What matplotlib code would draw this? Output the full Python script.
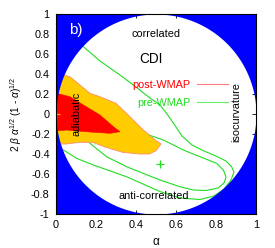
import numpy as np
import matplotlib
matplotlib.use("Agg")
import matplotlib.pyplot as plt
from matplotlib.lines import Line2D

plt.rcParams['font.family'] = ['Liberation Sans', 'DejaVu Sans']
plt.rcParams['mathtext.fontset'] = 'custom'
plt.rcParams['mathtext.rm'] = 'Liberation Sans'
plt.rcParams['mathtext.it'] = 'Liberation Sans:italic'

# ---- data ----
# post-WMAP 95% region (yellow)
post95_x = [-0.05, 0.04, 0.07, 0.12, 0.17, 0.22, 0.30, 0.37, 0.437, 0.49, 0.525,
            0.50, 0.467, 0.417, 0.333, 0.25, 0.183, 0.117, 0.05, -0.05]
post95_y = [0.39, 0.39, 0.373, 0.29, 0.207, 0.173, 0.107, -0.027, -0.16, -0.25, -0.30,
            -0.367, -0.40, -0.40, -0.383, -0.333, -0.283, -0.283, -0.30, -0.30]
# post-WMAP 68% region (red)
post68_x = [-0.05, 0.003, 0.07, 0.137, 0.22, 0.287, 0.32, 0.27, 0.17, 0.053, -0.05]
post68_y = [0.207, 0.207, 0.173, 0.09, -0.01, -0.127, -0.177, -0.193, -0.18, -0.16, -0.177]

# pre-WMAP contours (green)
pre68_x = [0.15, 0.30, 0.45, 0.537, 0.637, 0.72, 0.803, 0.837, 0.85, 0.84, 0.81,
           0.75, 0.687, 0.62, 0.52, 0.353, 0.253, 0.17, 0.15]
pre68_y = [-0.25, -0.15, -0.20, -0.26, -0.36, -0.427, -0.493, -0.56, -0.63, -0.69, -0.74,
           -0.765, -0.76, -0.727, -0.66, -0.527, -0.427, -0.293, -0.25]
pre95_x = [0.08, 0.137, 0.22, 0.32, 0.40, 0.47, 0.52, 0.555, 0.59, 0.63, 0.68, 0.74,
           0.80, 0.85, 0.878, 0.89, 0.875, 0.84, 0.79, 0.72, 0.62, 0.52, 0.353, 0.187,
           0.103, 0.037, -0.05, -0.05, 0.08]
pre95_y = [0.80, 0.673, 0.53, 0.39, 0.27, 0.16, 0.09, 0.0, -0.10, -0.22, -0.31, -0.37,
           -0.42, -0.47, -0.527, -0.58, -0.66, -0.75, -0.82, -0.855, -0.84, -0.775, -0.627, -0.51,
           -0.443, -0.36, -0.30, 0.80, 0.80]

best_pre = (0.52, -0.495)
best_post = (0.0, 0.0)

xticks = [0, 0.2, 0.4, 0.6, 0.8, 1]
xtick_labels = ['0', '0.2', '0.4', '0.6', '0.8', '1']
yticks = [-1, -0.8, -0.6, -0.4, -0.2, 0, 0.2, 0.4, 0.6, 0.8, 1]
ytick_labels = ['-1', '-0.8', '-0.6', '-0.4', '-0.2', '0', '0.2', '0.4', '0.6', '0.8', '1']

BLUE = '#0000ff'
YELLOW = '#ffcc00'
RED = '#ff0000'
GREEN = '#22dd22'

fig = plt.figure(figsize=(2.75, 2.48), dpi=100)
ax = fig.add_axes([0.2036, 0.137, 0.7273, 0.8065])

# pre-WMAP contours, under everything
ax.plot(pre95_x, pre95_y, color=GREEN, lw=0.8, zorder=1)
ax.plot(pre68_x, pre68_y, color=GREEN, lw=0.8, zorder=1)

# post-WMAP regions
ax.fill(post95_x, post95_y, facecolor=YELLOW, edgecolor='#ff8c6a', lw=0.6, zorder=2)
ax.fill(post68_x, post68_y, facecolor=RED, edgecolor=RED, lw=0.4, zorder=3)

# forbidden region outside |2 b sqrt(a(1-a))| <= 2 sqrt(a(1-a))
a = np.linspace(0, 1, 600)
edge = 2 * np.sqrt(a * (1 - a))
ax.fill_between(a, edge, 1.05, color=BLUE, lw=0, zorder=4)
ax.fill_between(a, -1.05, -edge, color=BLUE, lw=0, zorder=4)

ax.plot(*best_pre, marker='+', color=GREEN, ms=6, mew=0.9, zorder=5)
ax.plot(*best_post, marker='+', color='#ffaa00', ms=6, mew=0.9, zorder=5)

ax.set_xlim(0, 1)
ax.set_ylim(-1, 1)
ax.set_xticks(xticks)
ax.set_xticklabels(xtick_labels)
ax.set_yticks(yticks)
ax.set_yticklabels(ytick_labels)
ax.tick_params(direction='in', top=True, right=True, length=3, width=0.6,
               labelsize=7.8, pad=4.5)
for s in ax.spines.values():
    s.set_linewidth(0.8)
    s.set_zorder(6)

ax.set_xlabel('α', fontsize=8.5, labelpad=4)
ax.set_ylabel(r'2 $\beta$ $\alpha^{1/2}$ (1 - $\alpha$)$^{1/2}$', fontsize=7.3, labelpad=5)

fs = 7.8
ax.text(0.1, 0.84, 'b)', color='white', fontsize=11, ha='center', va='center', zorder=7)
ax.text(0.5, 0.80, 'correlated', fontsize=fs, ha='center', va='center', zorder=7)
ax.text(0.473, 0.55, 'CDI', fontsize=9.8, ha='center', va='center', zorder=7)
ax.text(0.103, 0.0, 'adiabatic', fontsize=fs, rotation=90, ha='center', va='center', zorder=7)
ax.text(0.90, 0.017, 'isocurvature', fontsize=fs, rotation=90, ha='center', va='center', zorder=7)
ax.text(0.49, -0.817, 'anti-correlated', fontsize=fs, ha='center', va='center', zorder=7)

handles = [Line2D([], [], color='#ff7f7f', lw=0.8), Line2D([], [], color='#66ee66', lw=0.8)]
leg = ax.legend(handles, ['post-WMAP', 'pre-WMAP'], loc='center right',
                bbox_to_anchor=(0.86, 0.6), frameon=False, markerfirst=False,
                fontsize=fs, handlelength=2.85, handletextpad=0.6, labelspacing=0.7,
                labelcolor=[RED, GREEN], borderpad=0, borderaxespad=0)
leg.set_zorder(7)

fig.savefig('out.png', dpi=100)
